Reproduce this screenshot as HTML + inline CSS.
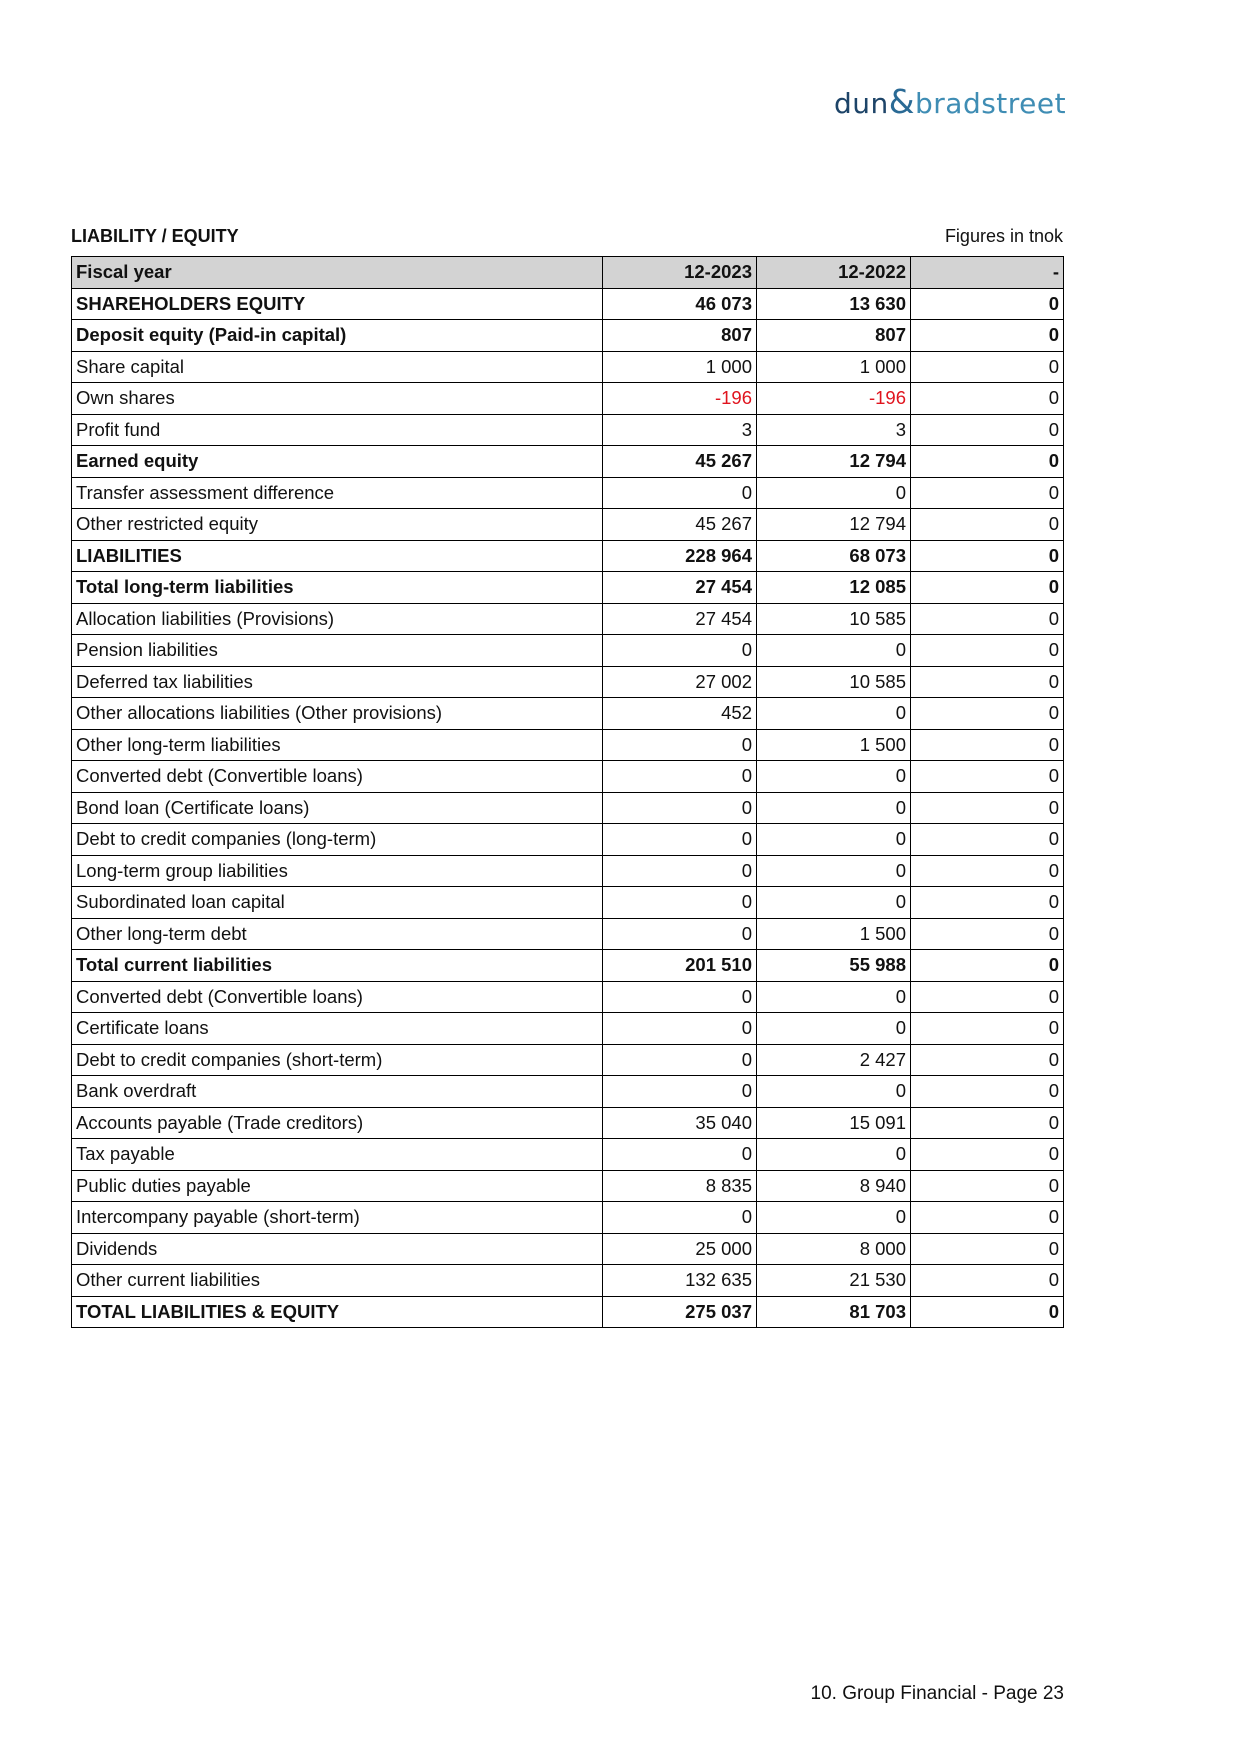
<!DOCTYPE html>
<html><head><meta charset="utf-8"><style>
body{margin:0;width:1241px;height:1754px;background:#fff;font-family:"Liberation Sans",Arial,sans-serif;color:#111;position:relative;overflow:hidden}
.logo{position:absolute;left:834px;top:82px;font-size:28px;letter-spacing:0.5px;font-family:"DejaVu Sans","Liberation Sans",sans-serif}
.logo .d{color:#1d4468}.logo .a{color:#2a6a95;font-size:33px}.logo .b{color:#3f8db4}
.title{position:absolute;left:71px;top:226px;font-size:18px;font-weight:bold}
.fig{position:absolute;right:178px;top:226px;font-size:18px}
table{position:absolute;left:71px;top:256px;border-collapse:collapse;font-size:18.5px}
td{border:1.5px solid #000;height:30.5px;padding:0 4px;white-space:nowrap}
td.n{text-align:right}
td:nth-child(1){width:522px}td:nth-child(2){width:145px}td:nth-child(3){width:145px}td:nth-child(4){width:144px}
tr.h td{background:#d3d3d3;font-weight:bold}
tr.b td{font-weight:bold}
.r{color:#e0141e}
.foot{position:absolute;right:177px;top:1683px;font-size:19px}
</style></head><body>
<div class="logo"><span class="d">dun</span><span class="a">&amp;</span><span class="b">bradstreet</span></div>
<div class="title">LIABILITY / EQUITY</div>
<div class="fig">Figures in tnok</div>
<table>
<tr class="h"><td>Fiscal year</td><td class="n">12-2023</td><td class="n">12-2022</td><td class="n">-</td></tr>
<tr class="b"><td>SHAREHOLDERS EQUITY</td><td class="n">46 073</td><td class="n">13 630</td><td class="n">0</td></tr>
<tr class="b"><td>Deposit equity (Paid-in capital)</td><td class="n">807</td><td class="n">807</td><td class="n">0</td></tr>
<tr><td>Share capital</td><td class="n">1 000</td><td class="n">1 000</td><td class="n">0</td></tr>
<tr><td>Own shares</td><td class="n r">-196</td><td class="n r">-196</td><td class="n">0</td></tr>
<tr><td>Profit fund</td><td class="n">3</td><td class="n">3</td><td class="n">0</td></tr>
<tr class="b"><td>Earned equity</td><td class="n">45 267</td><td class="n">12 794</td><td class="n">0</td></tr>
<tr><td>Transfer assessment difference</td><td class="n">0</td><td class="n">0</td><td class="n">0</td></tr>
<tr><td>Other restricted equity</td><td class="n">45 267</td><td class="n">12 794</td><td class="n">0</td></tr>
<tr class="b"><td>LIABILITIES</td><td class="n">228 964</td><td class="n">68 073</td><td class="n">0</td></tr>
<tr class="b"><td>Total long-term liabilities</td><td class="n">27 454</td><td class="n">12 085</td><td class="n">0</td></tr>
<tr><td>Allocation liabilities (Provisions)</td><td class="n">27 454</td><td class="n">10 585</td><td class="n">0</td></tr>
<tr><td>Pension liabilities</td><td class="n">0</td><td class="n">0</td><td class="n">0</td></tr>
<tr><td>Deferred tax liabilities</td><td class="n">27 002</td><td class="n">10 585</td><td class="n">0</td></tr>
<tr><td>Other allocations liabilities (Other provisions)</td><td class="n">452</td><td class="n">0</td><td class="n">0</td></tr>
<tr><td>Other long-term liabilities</td><td class="n">0</td><td class="n">1 500</td><td class="n">0</td></tr>
<tr><td>Converted debt (Convertible loans)</td><td class="n">0</td><td class="n">0</td><td class="n">0</td></tr>
<tr><td>Bond loan (Certificate loans)</td><td class="n">0</td><td class="n">0</td><td class="n">0</td></tr>
<tr><td>Debt to credit companies (long-term)</td><td class="n">0</td><td class="n">0</td><td class="n">0</td></tr>
<tr><td>Long-term group liabilities</td><td class="n">0</td><td class="n">0</td><td class="n">0</td></tr>
<tr><td>Subordinated loan capital</td><td class="n">0</td><td class="n">0</td><td class="n">0</td></tr>
<tr><td>Other long-term debt</td><td class="n">0</td><td class="n">1 500</td><td class="n">0</td></tr>
<tr class="b"><td>Total current liabilities</td><td class="n">201 510</td><td class="n">55 988</td><td class="n">0</td></tr>
<tr><td>Converted debt (Convertible loans)</td><td class="n">0</td><td class="n">0</td><td class="n">0</td></tr>
<tr><td>Certificate loans</td><td class="n">0</td><td class="n">0</td><td class="n">0</td></tr>
<tr><td>Debt to credit companies (short-term)</td><td class="n">0</td><td class="n">2 427</td><td class="n">0</td></tr>
<tr><td>Bank overdraft</td><td class="n">0</td><td class="n">0</td><td class="n">0</td></tr>
<tr><td>Accounts payable (Trade creditors)</td><td class="n">35 040</td><td class="n">15 091</td><td class="n">0</td></tr>
<tr><td>Tax payable</td><td class="n">0</td><td class="n">0</td><td class="n">0</td></tr>
<tr><td>Public duties payable</td><td class="n">8 835</td><td class="n">8 940</td><td class="n">0</td></tr>
<tr><td>Intercompany payable (short-term)</td><td class="n">0</td><td class="n">0</td><td class="n">0</td></tr>
<tr><td>Dividends</td><td class="n">25 000</td><td class="n">8 000</td><td class="n">0</td></tr>
<tr><td>Other current liabilities</td><td class="n">132 635</td><td class="n">21 530</td><td class="n">0</td></tr>
<tr class="b"><td>TOTAL LIABILITIES &amp; EQUITY</td><td class="n">275 037</td><td class="n">81 703</td><td class="n">0</td></tr>
</table>
<div class="foot">10. Group Financial - Page 23</div>
</body></html>
